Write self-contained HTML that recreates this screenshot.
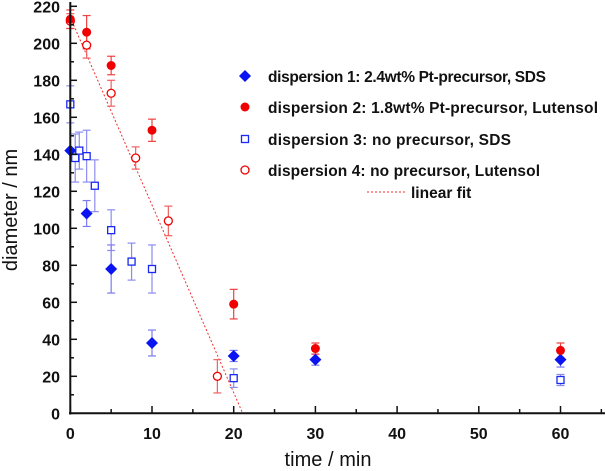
<!DOCTYPE html>
<html><head><meta charset="utf-8"><style>
html,body{margin:0;padding:0;background:#fff;width:605px;height:471px;overflow:hidden}
svg text{font-family:"Liberation Sans",Arial,sans-serif;font-weight:bold;fill:#111}
</style></head><body>
<svg id="s" width="605" height="471" xmlns="http://www.w3.org/2000/svg"></svg>
<script>
const s=document.getElementById('s');
const X=t=>70.3+8.17*t, Y=v=>413.3-1.85*v;
let h='';
h+=`<line x1="${X(0)}" y1="${Y(214)}" x2="${X(21.1)}" y2="${Y(0)}" stroke="#f03030" stroke-width="1" stroke-dasharray="2,2"/>`;
function eb(t,v,e,c){const x=X(t);h+=`<g stroke="${c}" stroke-width="1.2"><line x1="${x}" y1="${Y(v-e)}" x2="${x}" y2="${Y(v+e)}"/><line x1="${x-4}" y1="${Y(v-e)}" x2="${x+4}" y2="${Y(v-e)}"/><line x1="${x-4}" y1="${Y(v+e)}" x2="${x+4}" y2="${Y(v+e)}"/></g>`;}
const d1=[[0,142,0],[2,108,7],[5,78,13],[10,38,7],[20,31,3],[30,29,3],[60,29,4]];
const d2=[[0,213,5],[2,206,9],[5,188,5],[10,153,6],[20,59,8],[30,35,3],[60,34,4]];
const d3=[[0,167,10],[0.6,138,13],[1.1,142,10],[2,139,14],[3,123,14],[5,99,11],[7.5,82,10],[10,78,13],[20,19,5],[60,18,3]];
const d4=[[0,212,4],[2,199,7],[5,173,7],[8,138,6],[12,104,8],[18,20,9]];
d3.forEach(p=>eb(p[0],p[1],p[2],'#8c8cf0'));
d1.forEach(p=>eb(p[0],p[1],p[2],'#7b7bf0'));
d4.forEach(p=>eb(p[0],p[1],p[2],'#f06060'));
d2.forEach(p=>eb(p[0],p[1],p[2],'#f04040'));
function dia(x,y){return `<polygon points="${x},${y-6} ${x+6},${y} ${x},${y+6} ${x-6},${y}" fill="#0a14f0"/>`;}
function sq(x,y){return `<rect x="${x-3.5}" y="${y-3.5}" width="7" height="7" fill="#fff" stroke="#1a2af0" stroke-width="1.3"/>`;}
function fc(x,y){return `<circle cx="${x}" cy="${y}" r="4.5" fill="#f00000"/>`;}
function oc(x,y){return `<circle cx="${x}" cy="${y}" r="4" fill="#fff" stroke="#f00000" stroke-width="1.3"/>`;}
d3.forEach(p=>h+=sq(X(p[0]),Y(p[1])));
d4.forEach(p=>h+=oc(X(p[0]),Y(p[1])));
d1.forEach(p=>h+=dia(X(p[0]),Y(p[1])));
d2.forEach(p=>h+=fc(X(p[0]),Y(p[1])));
h+=`<line x1="70.3" y1="2" x2="70.3" y2="414.5" stroke="#111" stroke-width="2"/>`;
h+=`<line x1="69" y1="413.3" x2="605" y2="413.3" stroke="#111" stroke-width="2"/>`;
for(let v=0;v<=220;v+=10){const y=Y(v);h+=`<line x1="70" y1="${y}" x2="${v%20?74:77}" y2="${y}" stroke="#111" stroke-width="1.5"/>`;if(v%20==0)h+=`<text x="60" y="${y+6}" font-size="16" text-anchor="end">${v}</text>`;}
for(let t=0;t<=65;t+=5){const x=X(t);h+=`<line x1="${x}" y1="413" x2="${x}" y2="${t%10?409:406}" stroke="#111" stroke-width="1.5"/>`;if(t%10==0)h+=`<text x="${x}" y="439" font-size="16" text-anchor="middle">${t}</text>`;}
h+=`<text x="328" y="466" font-size="20" text-anchor="middle" style="font-weight:normal" textLength="87">time / min</text>`;
h+=`<text transform="translate(17,210) rotate(-90)" font-size="20" text-anchor="middle" style="font-weight:normal">diameter / nm</text>`;
const L=[['dispersion 1: 2.4wt% Pt-precursor, SDS',dia,278],['dispersion 2: 1.8wt% Pt-precursor, Lutensol',fc,330],['dispersion 3: no precursor, SDS',sq,243],['dispersion 4: no precursor, Lutensol',oc,272]];
const ly=[76,107,139,170];
L.forEach((l,i)=>{h+=l[1](245,ly[i]);h+=`<text x="268" y="${ly[i]+6}" font-size="15.5" textLength="${l[2]}">${l[0]}</text>`;});
h+=`<line x1="367" y1="192" x2="405" y2="192" stroke="#f03030" stroke-dasharray="2,2"/><text x="411" y="198" font-size="15.5">linear fit</text>`;
s.innerHTML=h;
</script>
</body></html>
